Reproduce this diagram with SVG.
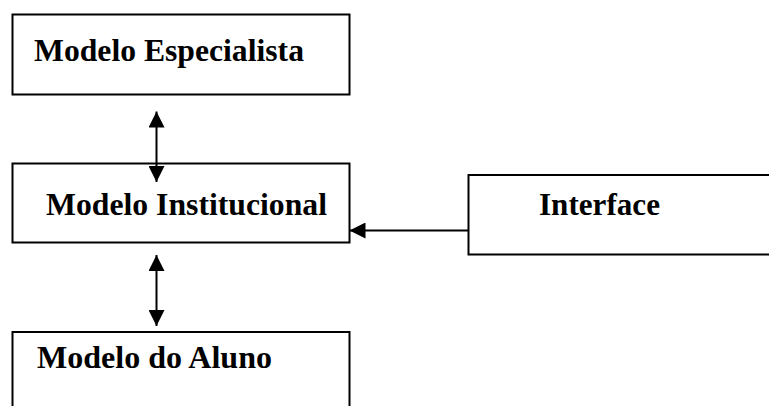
<svg xmlns="http://www.w3.org/2000/svg" width="769" height="406" viewBox="0 0 769 406">
<style>
.box{fill:#fff;stroke:#000;stroke-width:2}
.lbl{font-family:"Liberation Serif","Times New Roman",serif;font-weight:bold;font-size:31px;fill:#000}
.conn{stroke:#000;stroke-width:2;fill:none}
</style>
<defs>
<marker id="ah" markerUnits="userSpaceOnUse" markerWidth="16" markerHeight="16" viewBox="0 0 15 15" refX="15" refY="7.5" orient="auto-start-reverse">
<path d="M0,0 L15,7.5 L0,15 Z" fill="#000"/>
</marker>
</defs>
<rect width="769" height="406" fill="#fff"/>
<g id="especialista">
<rect class="box" x="12.5" y="14.5" width="337" height="80"/>
<text class="lbl" x="34" y="61" textLength="270" lengthAdjust="spacingAndGlyphs">Modelo Especialista</text>
</g>
<g id="institucional">
<rect class="box" x="12.5" y="163.5" width="337" height="79"/>
<text class="lbl" x="46" y="214.5" textLength="281" lengthAdjust="spacingAndGlyphs">Modelo Institucional</text>
</g>
<g id="aluno">
<rect class="box" x="12.5" y="332" width="337" height="90"/>
<text class="lbl" x="37" y="368" textLength="235" lengthAdjust="spacingAndGlyphs">Modelo do Aluno</text>
</g>
<g id="interface">
<rect class="box" x="468.5" y="175" width="320" height="79.5"/>
<text class="lbl" x="539" y="215" textLength="121" lengthAdjust="spacingAndGlyphs">Interface</text>
</g>
<g id="connectors">
<line class="conn" x1="156.5" y1="111.5" x2="156.5" y2="182" marker-start="url(#ah)" marker-end="url(#ah)"/>
<line class="conn" x1="156.5" y1="255" x2="156.5" y2="326" marker-start="url(#ah)" marker-end="url(#ah)"/>
<line class="conn" x1="468.5" y1="230.5" x2="349.5" y2="230.5" marker-end="url(#ah)"/>
</g>
</svg>
